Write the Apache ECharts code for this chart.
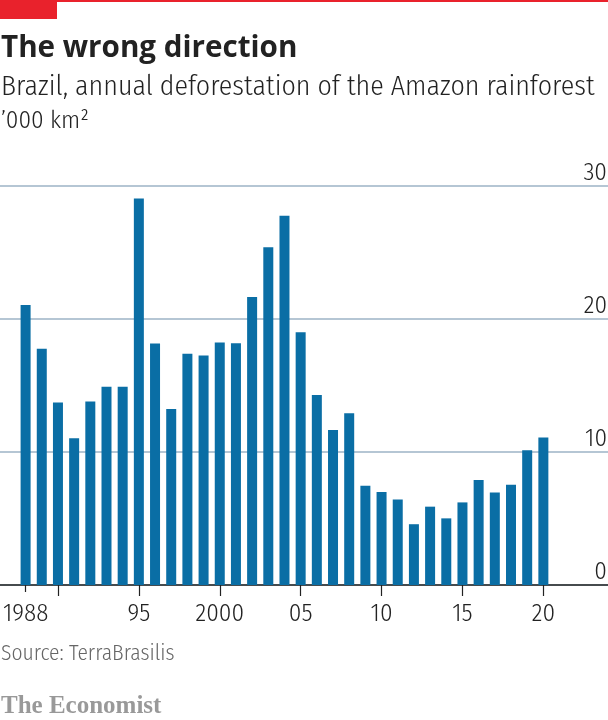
<!DOCTYPE html>
<html><head><meta charset="utf-8">
<style>html,body{margin:0;padding:0;background:#fff}#c{width:608px;height:720px}</style>
<script src="https://cdn.jsdelivr.net/npm/echarts@6/dist/echarts.min.js"></script></head>
<body><div id="c"></div>
<script>
const years=[1988,1989,1990,1991,1992,1993,1994,1995,1996,1997,1998,1999,2000,2001,2002,2003,2004,2005,2006,2007,2008,2009,2010,2011,2012,2013,2014,2015,2016,2017,2018,2019,2020];
const deforestation=[21.05,17.77,13.73,11.03,13.79,14.9,14.9,29.06,18.16,13.23,17.38,17.26,18.23,18.17,21.65,25.4,27.77,19.01,14.29,11.65,12.91,7.46,7.0,6.42,4.57,5.89,5.01,6.21,7.89,6.95,7.54,10.13,11.09];
const labelYears=[1988,1995,2000,2005,2010,2015,2020];
const longTickYears=[1990,1995,2000,2005,2010,2015,2020];
const shortTickYears=[1988];
const tickLabels={1988:'1988',1995:'95',2000:'2000',2005:'05',2010:'10',2015:'15',2020:'20'};
const yTicks=[0,10,20,30];
const title='The wrong direction';
const subtitle='Brazil, annual deforestation of the Amazon rainforest';
const unit='’000 km²';
const source='Source: TerraBrasilis';
const brand='The Economist';
const sans='"Fira Sans Condensed Light","Fira Sans Condensed","Roboto Condensed",sans-serif';
const xMin=1986.418,xMax=2023.995;
const chart=echarts.init(document.getElementById('c'),null,{renderer:'canvas'});
chart.setOption({
 animation:false,
 grid:{left:0,right:0,top:186,height:399,outerBoundsMode:'none',containLabel:false},
 xAxis:[{type:'value',min:xMin,max:xMax,
  axisLine:{show:true,onZero:false,lineStyle:{color:'#222',width:1.5}},
  splitLine:{show:false},
  axisTick:{show:true,length:11,customValues:longTickYears,lineStyle:{color:'#222',width:1.2}},
  axisLabel:{customValues:labelYears,margin:17,hideOverlap:false,color:'#222',fontSize:25,fontFamily:sans,formatter:v=>tickLabels[v]}},
  {type:'value',min:xMin,max:xMax,position:'bottom',
  axisLine:{show:false},splitLine:{show:false},axisLabel:{show:false},
  axisTick:{show:true,length:7,customValues:shortTickYears,lineStyle:{color:'#222',width:1.2}}}],
 yAxis:{type:'value',min:0,max:30,interval:10,position:'right',
  axisLine:{show:false},axisTick:{show:false},
  splitLine:{show:true,lineStyle:{color:'#b5c6d4',width:2}},
  axisLabel:{inside:true,margin:1,verticalAlign:'bottom',color:'#222',fontSize:25,fontFamily:sans,customValues:yTicks}},
 series:[{type:'bar',barWidth:10,itemStyle:{color:'#0a6ea5'},data:years.map((y,i)=>[y,deforestation[i]])}],
 graphic:[
  {type:'rect',shape:{x:0,y:0,width:608,height:2},style:{fill:'#e9222c'}},
  {type:'rect',shape:{x:0,y:0,width:57,height:19},style:{fill:'#e9222c'}},
  {type:'text',x:1,y:33,scaleX:0.955,style:{text:title,font:'bold 31px "Open Sans",sans-serif',fill:'#222'}},
  {type:'text',x:1,y:73,scaleX:0.996,style:{text:subtitle,font:'28px '+sans,fill:'#222'}},
  {type:'text',x:1,y:109,style:{text:unit,font:'25px '+sans,fill:'#222'}},
  {type:'text',x:1,y:643,style:{text:source,font:'21.5px '+sans,fill:'#666'}},
  {type:'text',x:1,y:694,style:{text:brand,font:'bold 25px "Liberation Serif",serif',fill:'#999'}}
 ]
});
</script></body></html>
